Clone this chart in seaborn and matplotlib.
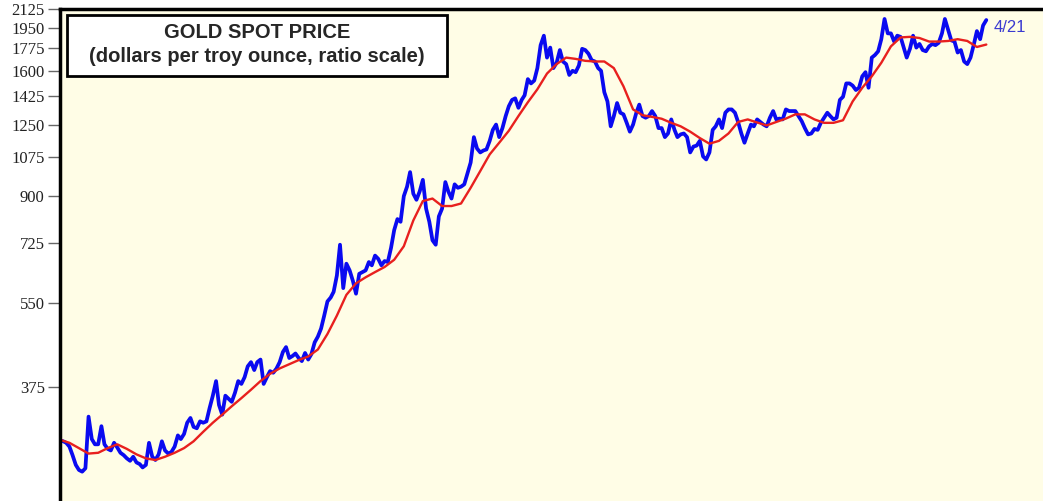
import seaborn as sns
import matplotlib.pyplot as plt
from matplotlib.patches import Rectangle
from matplotlib.ticker import NullLocator
import pandas as pd

# monthly gold spot price, Jan 1999 - Apr 2023
price = [
    293, 292, 290, 285, 274, 262, 256, 254, 258, 327, 295, 288,          # 1999
    288, 313, 288, 282, 280, 290, 284, 277, 274, 270, 267, 272,          # 2000
    265, 263, 259, 262, 290, 272, 268, 275, 292, 280, 276, 278,          # 2001
    285, 300, 295, 302, 318, 325, 312, 310, 320, 318, 320, 340,          # 2002
    360, 385, 345, 330, 360, 355, 350, 365, 385, 380, 392, 412,          # 2003
    420, 405, 420, 425, 380, 392, 403, 400, 408, 420, 440, 450,          # 2004
    428, 432, 437, 428, 422, 438, 425, 436, 460, 472, 490, 520,          # 2005
    555, 565, 580, 625, 720, 590, 660, 640, 610, 575, 630, 635,          # 2006
    640, 665, 655, 685, 675, 655, 668, 665, 710, 770, 810, 800,          # 2007
    900, 940, 1005, 910, 885, 920, 970, 850, 800, 735, 720, 820,         # 2008
    850, 960, 920, 890, 950, 935, 940, 950, 1000, 1050, 1180, 1120,      # 2009
    1100, 1110, 1115, 1160, 1220, 1250, 1180, 1230, 1300, 1360, 1400, 1410,  # 2010
    1350, 1400, 1430, 1540, 1510, 1530, 1620, 1800, 1880, 1700, 1780, 1620,  # 2011
    1660, 1760, 1670, 1650, 1570, 1600, 1590, 1640, 1770, 1760, 1730, 1680,  # 2012
    1670, 1620, 1600, 1450, 1390, 1240, 1300, 1380, 1320, 1310, 1260, 1210,  # 2013
    1250, 1320, 1370, 1300, 1290, 1300, 1330, 1300, 1230, 1230, 1180, 1200,  # 2014
    1280, 1220, 1180, 1195, 1200, 1180, 1100, 1130, 1135, 1160, 1080, 1065,  # 2015
    1100, 1220, 1240, 1280, 1230, 1320, 1340, 1340, 1320, 1265, 1200, 1150,  # 2016
    1200, 1250, 1240, 1280, 1265, 1250, 1240, 1290, 1330, 1280, 1285, 1280,  # 2017
    1340, 1330, 1330, 1330, 1300, 1270, 1230, 1195, 1200, 1225, 1220, 1260,  # 2018
    1290, 1320, 1300, 1280, 1290, 1400, 1420, 1510, 1510, 1495, 1465, 1480,  # 2019
    1560, 1590, 1480, 1700, 1720, 1750, 1850, 2030, 1900, 1900, 1830, 1880,  # 2020
    1870, 1780, 1700, 1770, 1880, 1780, 1810, 1760, 1750, 1790, 1810, 1800,  # 2021
    1820, 1900, 2030, 1930, 1840, 1830, 1740, 1760, 1670, 1650, 1700, 1800,  # 2022
    1920, 1850, 1970, 2020,                                                  # 2023
]

# moving average, quarterly readings
avg = [
    294, 290, 283, 276,  277, 283, 288, 282,  275, 270, 268, 272,
    277, 283, 292, 305,  318, 330, 343, 356,  370, 385, 398, 408,
    416, 424, 431, 445,  478, 520, 572, 603,  620, 635, 650, 672,
    715, 805, 880, 890,  860, 860, 870, 935,  1010, 1090, 1150, 1215,
    1300, 1385, 1470, 1580,  1650, 1700, 1690, 1675,  1670, 1670, 1620, 1490,
    1340, 1305, 1295, 1284,  1260, 1240, 1210, 1175,  1145, 1160, 1200, 1265,
    1280, 1262, 1245, 1265,  1285, 1310, 1310, 1280,  1260, 1260, 1275, 1390,
    1480, 1560, 1660, 1790,  1865, 1870, 1860, 1830,  1830, 1835, 1850, 1835,
    1785, 1805,
]

months = pd.date_range("1999-01-01", periods=len(price), freq="MS")
quarters = pd.date_range("1999-01-01", periods=len(avg), freq="QS")
yticks = [375, 550, 725, 900, 1075, 1250, 1425, 1600, 1775, 1950, 2125]
last_label = "4/21"

sns.set_style("white")
plt.rcParams["font.family"] = ["Liberation Sans", "DejaVu Sans"]

fig = plt.figure(figsize=(10.43, 5.01), dpi=100)
ax = fig.add_axes([60 / 1043, 0, 983 / 1043, 492 / 501])
ax.set_facecolor("#FFFDE6")

sns.lineplot(x=months, y=price, ax=ax, color="#0A0AF0", lw=2.7)
sns.lineplot(x=quarters, y=avg, ax=ax, color="#E8201E", lw=1.7)

ax.set_yscale("log")
ax.set_ylim(222, 2125)
ax.set_xlim(pd.Timestamp("1999-01-01"), pd.Timestamp("2024-09-24"))
ax.set_yticks(yticks)
ax.set_yticklabels([str(t) for t in yticks], fontfamily="Liberation Serif",
                   fontsize=12, color="#222222")
ax.yaxis.set_minor_locator(NullLocator())
ax.set_xticks([])
ax.set_xlabel("")
ax.set_ylabel("")
ax.tick_params(axis="y", direction="out", length=9, width=1, color="#666666",
               pad=2, left=True)

for side in ["right", "bottom"]:
    ax.spines[side].set_visible(False)
for side in ["left", "top"]:
    ax.spines[side].set_color("black")
    ax.spines[side].set_linewidth(2.5)

# title box
ax.add_patch(Rectangle((0.0071, 0.8638), 0.3866, 0.124, transform=ax.transAxes,
                       facecolor="white", edgecolor="black", lw=2, zorder=5))
ax.text(0.2004, 0.953, "GOLD SPOT PRICE", transform=ax.transAxes, ha="center",
        va="center", fontsize=14.5, fontweight="bold", zorder=6)
ax.text(0.2004, 0.904, "(dollars per troy ounce, ratio scale)", transform=ax.transAxes,
        ha="center", va="center", fontsize=14.5, fontweight="bold", zorder=6)

ax.annotate(last_label, xy=(months[-1], price[-1]), xytext=(7, -7),
            textcoords="offset pixels", ha="left", va="center",
            fontsize=12, color="#3A3AD0")

fig.savefig("out.png", dpi=100)
